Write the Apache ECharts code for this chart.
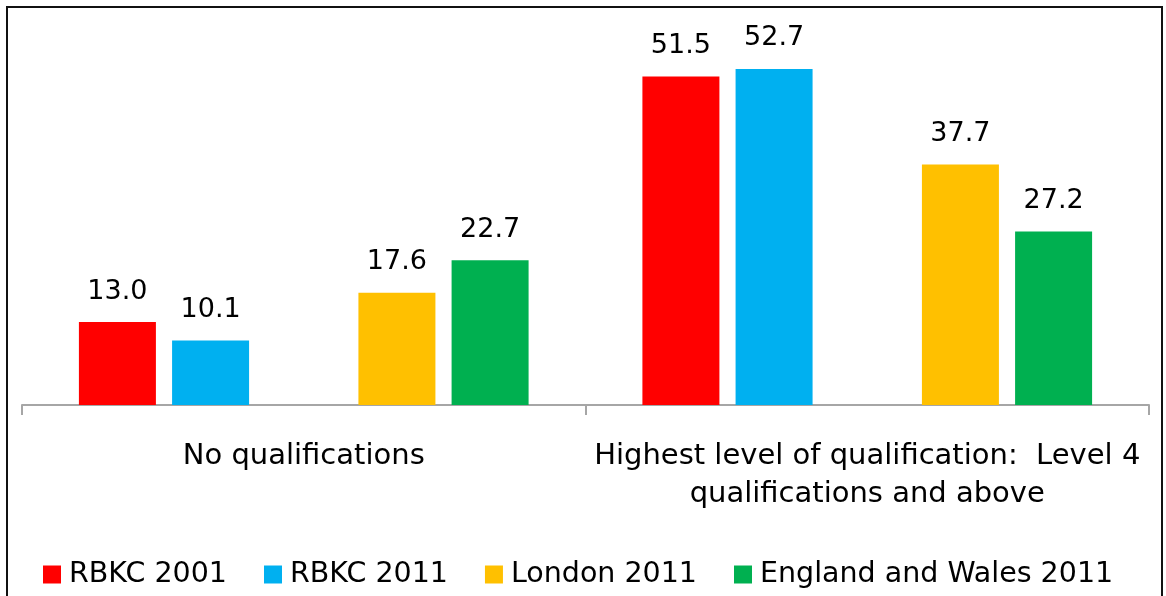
<!DOCTYPE html>
<html>
<head>
<meta charset="utf-8">
<script src="https://cdn.jsdelivr.net/npm/echarts@6/dist/echarts.min.js"></script>
<style>
  html, body { margin: 0; padding: 0; background: #fff; }
  #chart { width: 1166px; height: 596px; }
</style>
</head>
<body>
<div id="chart"></div>
<script>
// categories and values
const categories = ["No qualifications", "Highest level of qualification:  Level 4\nqualifications and above"];
const rbkc2001 = [13.0, 51.5];
const rbkc2011 = [10.1, 52.7];
const london2011 = [17.6, 37.7];
const englandWales2011 = [22.7, 27.2];
const seriesNames = ["RBKC 2001", "RBKC 2011", "London 2011", "England and Wales 2011"];
const seriesColors = ["#ff0000", "#00b0f0", "#ffc000", "#00b050"];

const FONT = "DejaVu Sans";

let chart = echarts.init(document.getElementById("chart"));

function barSeries(name, data, color) {
  return {
    name: name,
    type: "bar",
    barWidth: 77,
    barGap: "21%",
    data: data,
    itemStyle: { color: color },
    label: {
      show: true,
      position: "top",
      distance: 17,
      color: "#000",
      fontFamily: FONT,
      fontSize: 27,
      formatter: (p) => p.value.toFixed(1),
    },
  };
}

const options = {
  animation: false,
  backgroundColor: "#fff",
  graphic: [
    {
      type: "rect",
      shape: { x: 7, y: 7, width: 1155, height: 700 },
      style: { fill: "none", stroke: "#111", lineWidth: 2 },
      silent: true,
    },
  ],
  legend: {
    data: seriesNames,
    left: 38,
    top: 555,
    itemWidth: 18,
    itemHeight: 18,
    itemGap: 37,
    icon: "rect",
    textStyle: {
      color: "#000",
      fontFamily: FONT,
      fontSize: 28.5,
      padding: [0, 0, 0, 3],
    },
  },
  grid: {
    left: 22,
    right: 17,
    top: 22.4,
    bottom: 191,
    containLabel: false,
  },
  xAxis: {
    type: "category",
    data: categories,
    axisLine: { lineStyle: { color: "#a6a6a6", width: 2 } },
    axisTick: { show: true, length: 10, lineStyle: { color: "#a6a6a6", width: 2 } },
    axisLabel: {
      color: "#000",
      fontFamily: FONT,
      fontSize: 29,
      lineHeight: 38,
      margin: 32,
      interval: 0,
    },
  },
  yAxis: {
    type: "value",
    min: 0,
    max: 60,
    show: false,
    splitLine: { show: false },
  },
  series: [
    barSeries(seriesNames[0], rbkc2001, seriesColors[0]),
    barSeries(seriesNames[1], rbkc2011, seriesColors[1]),
    // empty slot between RBKC and the comparison areas
    { name: "", type: "bar", barWidth: 77, barGap: "21%", data: [null, null] },
    barSeries(seriesNames[2], london2011, seriesColors[2]),
    barSeries(seriesNames[3], englandWales2011, seriesColors[3]),
  ],
};

chart.setOption(options);
</script>
</body>
</html>
